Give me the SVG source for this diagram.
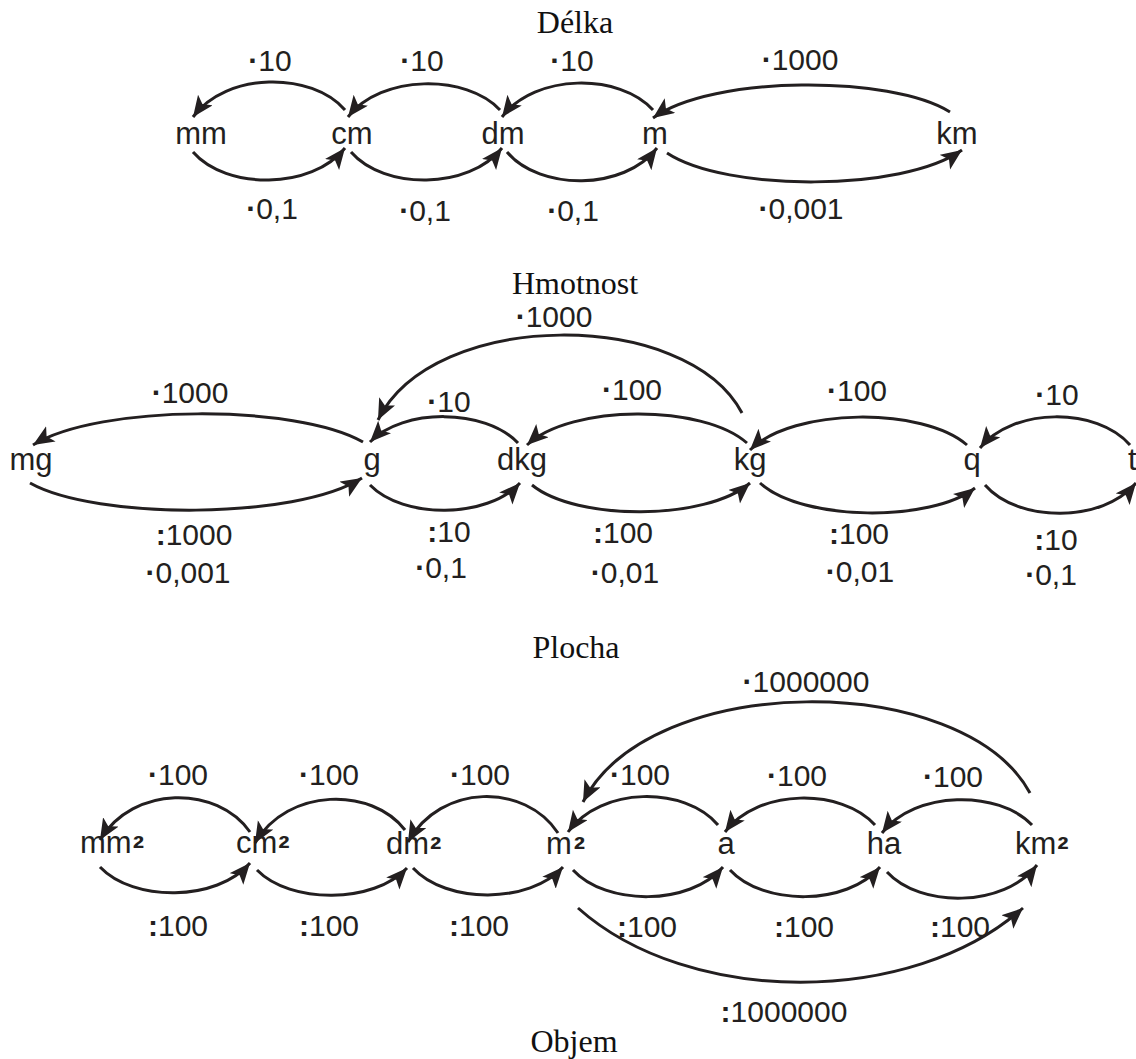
<svg xmlns="http://www.w3.org/2000/svg" width="1136" height="1059" viewBox="0 0 1136 1059">
<style>
.title{font-family:"Liberation Serif","Times New Roman",serif;font-size:32px;fill:#111;text-anchor:middle}
.node{font-family:"Liberation Sans",Arial,sans-serif;font-size:31px;fill:#231f20}
.mid{text-anchor:middle}
.lbl{font-family:"Liberation Sans",Arial,sans-serif;font-size:30px;fill:#231f20;text-anchor:middle}
.b{font-weight:bold}
.sup{font-size:34px;font-weight:bold}
.arc{fill:none;stroke:#231f20;stroke-width:3;marker-end:url(#ah)}
</style>
<defs>
<marker id="ah" markerUnits="userSpaceOnUse" markerWidth="24" markerHeight="20" refX="21" refY="9" orient="auto" viewBox="0 0 24 20">
<path d="M0,0 L21,9 L0,18 L5,9 z" fill="#231f20"/>
</marker>
</defs>
<rect width="1136" height="1059" fill="#fff"/>

<!-- titles -->
<text class="title" x="575" y="33">Délka</text>
<text class="title" x="575" y="294">Hmotnost</text>
<text class="title" x="576" y="658">Plocha</text>
<text class="title" x="574" y="1052">Objem</text>

<!-- nodes: Délka -->
<g id="d-mm"><text class="node mid" x="201" y="144">mm</text></g>
<g id="d-cm"><text class="node mid" x="352" y="144">cm</text></g>
<g id="d-dm"><text class="node mid" x="503" y="144">dm</text></g>
<g id="d-m"><text class="node mid" x="655" y="144">m</text></g>
<g id="d-km"><text class="node mid" x="957" y="144">km</text></g>

<!-- nodes: Hmotnost -->
<g id="h-mg"><text class="node mid" x="31" y="470">mg</text></g>
<g id="h-g"><text class="node mid" x="372" y="470">g</text></g>
<g id="h-dkg"><text class="node mid" x="522" y="470">dkg</text></g>
<g id="h-kg"><text class="node mid" x="750" y="470">kg</text></g>
<g id="h-q"><text class="node mid" x="972" y="470">q</text></g>
<g id="h-t"><text class="node" x="1128" y="470">t</text></g>

<!-- nodes: Plocha -->
<g id="p-mm2"><text class="node" x="80" y="853">mm<tspan class="sup" dx="1" dy="7">²</tspan></text></g>
<g id="p-cm2"><text class="node" x="236" y="853">cm<tspan class="sup" dx="1" dy="7">²</tspan></text></g>
<g id="p-dm2"><text class="node" x="386" y="854">dm<tspan class="sup" dx="1" dy="7">²</tspan></text></g>
<g id="p-m2"><text class="node" x="546" y="854">m<tspan class="sup" dx="2" dy="7">²</tspan></text></g>
<g id="p-a"><text class="node mid" x="726" y="854">a</text></g>
<g id="p-ha"><text class="node mid" x="884" y="854">ha</text></g>
<g id="p-km2"><text class="node" x="1015" y="854">km<tspan class="sup" dx="1" dy="7">²</tspan></text></g>

<!-- connectors -->
<g id="connectors">
<!-- Délka -->
<path class="arc" d="M345,110 C312,71.5 226,71.5 193,117"/>
<path class="arc" d="M193,152 C226,190 312,190 345,148"/>
<path class="arc" d="M500,110 C467,74 381,74 348,117"/>
<path class="arc" d="M351,152 C384,190 469,190 502,148"/>
<path class="arc" d="M653,110 C620,73 535,73 502,117"/>
<path class="arc" d="M507,152 C540,191 624,191 657,148"/>
<path class="arc" d="M950,112 C891,75 712,75 653,118"/>
<path class="arc" d="M667,153 C726,192 903,192 962,150"/>
<!-- Hmotnost -->
<path class="arc" d="M363,442 C297,404 99,404 33,445"/>
<path class="arc" d="M30,483 C96,520 296,520 362,478"/>
<path class="arc" d="M518,443 C485,408 403,408 370,442"/>
<path class="arc" d="M370,485 C403,519 487,519 520,483"/>
<path class="arc" d="M742,413 C687,308 433,308 378,420"/>
<path class="arc" d="M747,443 C703,404 571,404 527,445"/>
<path class="arc" d="M532,485 C576,521 706,521 750,483"/>
<path class="arc" d="M967,445 C924,407 793,407 750,450"/>
<path class="arc" d="M760,483 C803,522 932,522 975,488"/>
<path class="arc" d="M1130,445 C1097,407 1013,407 980,448"/>
<path class="arc" d="M985,485 C1018,523 1103,523 1136,483"/>
<!-- Plocha -->
<path class="arc" d="M250,832 C217,785 133,785 100,840"/>
<path class="arc" d="M100,867 C133,902 217,902 250,863"/>
<path class="arc" d="M405,830 C372,787 288,787 255,843"/>
<path class="arc" d="M257,870 C290,904 374,904 407,868"/>
<path class="arc" d="M558,833 C525,783 441,783 408,842"/>
<path class="arc" d="M413,868 C446,904 530,904 563,867"/>
<path class="arc" d="M718,825 C685,786 601,786 568,832"/>
<path class="arc" d="M573,870 C606,906 690,906 723,867"/>
<path class="arc" d="M875,825 C842,788 758,788 725,832"/>
<path class="arc" d="M730,870 C763,906 847,906 880,867"/>
<path class="arc" d="M1032,825 C999,790 915,790 882,833"/>
<path class="arc" d="M887,872 C920,908 1004,908 1037,865"/>
<path class="arc" d="M1030,793 C963,670 650,670 583,802"/>
<path class="arc" d="M578,908 C689,1007 912,1007 1023,908"/>
</g>

<!-- edge labels -->
<g id="edge-labels">
<text class="lbl" x="270" y="71"><tspan class="b">·</tspan>10</text>
<text class="lbl" x="422" y="71"><tspan class="b">·</tspan>10</text>
<text class="lbl" x="572" y="71"><tspan class="b">·</tspan>10</text>
<text class="lbl" x="800" y="70"><tspan class="b">·</tspan>1000</text>
<text class="lbl" x="272" y="219"><tspan class="b">·</tspan>0,1</text>
<text class="lbl" x="425" y="221"><tspan class="b">·</tspan>0,1</text>
<text class="lbl" x="573" y="221"><tspan class="b">·</tspan>0,1</text>
<text class="lbl" x="801" y="219"><tspan class="b">·</tspan>0,001</text>

<text class="lbl" x="554" y="327"><tspan class="b">·</tspan>1000</text>
<text class="lbl" x="190" y="403"><tspan class="b">·</tspan>1000</text>
<text class="lbl" x="449" y="412"><tspan class="b">·</tspan>10</text>
<text class="lbl" x="632" y="400"><tspan class="b">·</tspan>100</text>
<text class="lbl" x="857" y="401"><tspan class="b">·</tspan>100</text>
<text class="lbl" x="1057" y="405"><tspan class="b">·</tspan>10</text>
<text class="lbl" x="194" y="545"><tspan class="b">:</tspan>1000</text>
<text class="lbl" x="188" y="583"><tspan class="b">·</tspan>0,001</text>
<text class="lbl" x="449" y="542"><tspan class="b">:</tspan>10</text>
<text class="lbl" x="441" y="578"><tspan class="b">·</tspan>0,1</text>
<text class="lbl" x="623" y="543"><tspan class="b">:</tspan>100</text>
<text class="lbl" x="625" y="583"><tspan class="b">·</tspan>0,01</text>
<text class="lbl" x="859" y="544"><tspan class="b">:</tspan>100</text>
<text class="lbl" x="860" y="582"><tspan class="b">·</tspan>0,01</text>
<text class="lbl" x="1056" y="550"><tspan class="b">:</tspan>10</text>
<text class="lbl" x="1051" y="585"><tspan class="b">·</tspan>0,1</text>

<text class="lbl" x="806" y="692"><tspan class="b">·</tspan>1000000</text>
<text class="lbl" x="178" y="785"><tspan class="b">·</tspan>100</text>
<text class="lbl" x="329" y="785"><tspan class="b">·</tspan>100</text>
<text class="lbl" x="480" y="785"><tspan class="b">·</tspan>100</text>
<text class="lbl" x="640" y="785"><tspan class="b">·</tspan>100</text>
<text class="lbl" x="797" y="786"><tspan class="b">·</tspan>100</text>
<text class="lbl" x="953" y="787"><tspan class="b">·</tspan>100</text>
<text class="lbl" x="178" y="936"><tspan class="b">:</tspan>100</text>
<text class="lbl" x="329" y="936"><tspan class="b">:</tspan>100</text>
<text class="lbl" x="479" y="936"><tspan class="b">:</tspan>100</text>
<text class="lbl" x="647" y="937"><tspan class="b">:</tspan>100</text>
<text class="lbl" x="804" y="937"><tspan class="b">:</tspan>100</text>
<text class="lbl" x="960" y="937"><tspan class="b">:</tspan>100</text>
<text class="lbl" x="784" y="1022"><tspan class="b">:</tspan>1000000</text>
</g>
</svg>
